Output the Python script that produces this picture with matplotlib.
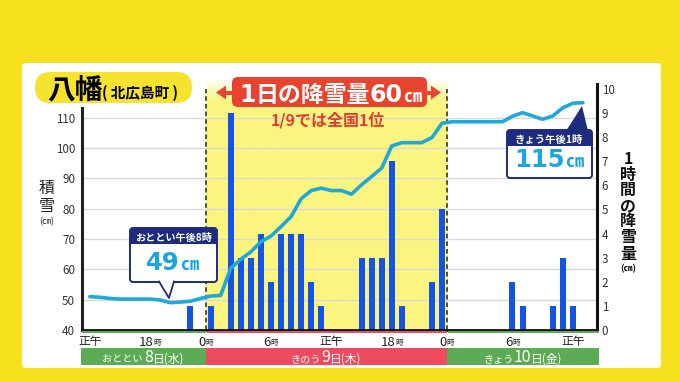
import matplotlib
matplotlib.use('Agg')
import matplotlib.pyplot as plt
from matplotlib.patches import FancyBboxPatch, Polygon, Rectangle
from matplotlib.transforms import Affine2D, blended_transform_factory
import numpy as np

plt.rcParams['font.family'] = ['Noto Sans CJK JP', 'DejaVu Sans']

# ---- data (x = hours since noon of Jan 8, hour-ending index) ----
depth_hours = list(range(1, 51))          # 13:00 (8th) ... 14:00 (10th)
depth_d8 = [51.0, 50.8, 50.4, 50.2, 50.2, 50.2, 50.2, 49.9, 49.0, 49.2, 49.5, 50.4]
depth_d9 = [51.2, 51.4, 60.4, 63.3, 65.8, 69.1, 71.0, 74.1, 77.4, 83.3, 86.0, 86.8,
            86.0, 86.0, 84.8, 87.9, 90.6, 93.4, 100.7, 101.8, 101.8, 101.8, 103.5, 108.2]
depth_d10 = [108.7, 108.7, 108.7, 108.7, 108.7, 108.7, 110.5, 111.7, 110.6, 109.5,
             110.6, 113.3, 114.8, 115.0]
depth = depth_d8 + depth_d9 + depth_d10

snow_hours = list(range(1, 50))
snow_d8 = [0, 0, 0, 0, 0, 0, 0, 0, 0, 0, 1, 0]
snow_d9 = [1, 0, 9, 3, 3, 4, 2, 4, 4, 4, 2, 1, 0, 0, 0, 3, 3, 3, 7, 1, 0, 0, 2, 5]
snow_d10 = [0, 0, 0, 0, 0, 0, 2, 1, 0, 0, 1, 3, 1]
snow = snow_d8 + snow_d9 + snow_d10

tick_hours = [0, 6, 12, 18, 24, 30, 36, 42, 48]
tick_text = ['正午', '18', '0', '6', '正午', '18', '0', '6', '正午']
day_edges = [12, 36]
left_ticks = list(range(40, 111, 10))
right_ticks = list(range(0, 11))

W, H = 680, 382
YEL = '#F7E11E'
NAVY = '#1E2B7E'
CYAN = '#19A6E0'
GREEN = '#5DAB54'
PINK = '#EE4B5E'
CJK = ['Noto Sans CJK JP', 'DejaVu Sans']
NUM = ['DejaVu Sans']

fig = plt.figure(figsize=(6.8, 3.82), dpi=100)
fig.patch.set_facecolor(YEL)
PX = Affine2D().scale(1, -1).translate(0, H)   # pixel coords, y from top


def box(x0, y0, x1, y1, fc, ec='none', lw=0, r=0, z=5):
    p = FancyBboxPatch((x0, y0), x1 - x0, y1 - y0,
                       boxstyle=f'round,pad=0,rounding_size={r}' if r else 'square,pad=0',
                       fc=fc, ec=ec, lw=lw, transform=PX, zorder=z)
    fig.add_artist(p)
    return p


def rich(x, y, parts, ha='center', weight='bold', z=10):
    r = fig.canvas.get_renderer()
    ts = []
    for s, size, color, fam in parts:
        ts.append(fig.text(0, 0, s, fontsize=size, color=color, family=fam,
                           fontweight=weight, va='baseline', ha='left',
                           transform=PX, zorder=z))
    ws = [t.get_window_extent(r).width for t in ts]
    x0 = x - sum(ws) / 2 if ha == 'center' else x
    for t, w in zip(ts, ws):
        t.set_position((x0, y))
        x0 += w


# white panel
box(22, 63, 661, 368, 'white', r=4, z=-1)

# ---- axes ----
ax = fig.add_axes([82 / W, (H - 330) / H, (597 - 82) / W, (330 - 89) / H])
ax2 = ax.twinx()
ax.set_zorder(ax2.get_zorder() + 1)
ax.patch.set_visible(False)
ax2.patch.set_visible(False)

xlim = (-0.28, 50.9)

# yellow band for the 9th, fading out just above the plot
top_v = 10.45
n = 200
vals = np.linspace(top_v, 0, n)
alpha = np.clip(1 - (vals - 9.5) / (top_v - 9.5), 0, 1)
img = np.zeros((n, 1, 4))
img[:, 0, :3] = np.array([251, 245, 128]) / 255
img[:, 0, 3] = alpha
ax2.imshow(img, extent=(day_edges[0], day_edges[1], 0, top_v), aspect='auto',
           clip_on=False, zorder=0, interpolation='bilinear')

# grid at left-axis values
tr = blended_transform_factory(ax2.transAxes, ax.transData)
ax2.hlines(left_ticks[1:], 0, 1, transform=tr, color='#DADADA', lw=1, zorder=1)

snow_x = [h - 0.5 for h in snow_hours]
ax2.bar(snow_x, snow, width=0.6, color='#1552E6', zorder=2)
for d in day_edges:
    ax2.axvline(d, color='#222222', ls=(0, (3, 2)), lw=1.1, zorder=3)

depth_x = [h - 0.5 for h in depth_hours]
ax.plot(depth_x, depth, color='#1FA8DA', lw=2.6, solid_capstyle='round',
        solid_joinstyle='round', zorder=4)

ax.set_xlim(*xlim)
ax2.set_xlim(*xlim)
ax.set_ylim(40, 119.5)
ax2.set_ylim(0, 10)
ax.set_xticks([])
ax.set_yticks(left_ticks)
ax2.set_yticks(right_ticks)
ax.tick_params(axis='y', length=0, pad=5, labelsize=8.4, labelcolor='#333333')
ax2.tick_params(axis='y', length=0, pad=3.5, labelsize=8.4, labelcolor='#333333')

for s in ['top', 'right']:
    ax.spines[s].set_visible(False)
for s in ['top', 'left', 'bottom']:
    ax2.spines[s].set_visible(False)
ax.spines['left'].set_linewidth(2.2)
ax.spines['left'].set_color('#222222')
ax.spines['left'].set_bounds(40, 113.3)
ax.spines['bottom'].set_linewidth(2)
ax.spines['bottom'].set_color('#111111')
ax2.spines['right'].set_linewidth(2.2)
ax2.spines['right'].set_color('#111111')
ax2.spines['right'].set_bounds(0, 10.2)


def xpix(t):
    return ax.transData.transform((t, 40))[0]


# x labels
for t, s in zip(tick_hours, tick_text):
    if s == '正午':
        rich(xpix(t + 0.5), 345.5, [(s, 8.5, '#222222', CJK)], weight='normal')
    else:
        xc = xpix(t) if s == '0' else xpix(t + 0.5)
        rich(xc, 345.5, [(s, 9.5, '#222222', CJK), ('時', 5.5, '#222222', CJK)],
             weight='normal')

# day strips + underline
x_l, x_r = xpix(xlim[0]) - 1, xpix(xlim[1]) + 2
e1, e2 = xpix(day_edges[0]), xpix(day_edges[1])
for a, b, c in [(x_l, e1, GREEN), (e1, e2, PINK), (e2, x_r, GREEN)]:
    box(a, 348, b, 365, c, z=3)
    box(a + 1, 331.2, b, 333.2, c, z=3)
rich((x_l + e1) / 2, 362.5, [('おととい ', 7.3, 'white', CJK), ('8', 11.5, 'white', CJK),
                             ('日(水)', 8.5, 'white', CJK)], weight='normal')
rich((e1 + e2) / 2, 362.5, [('きのう', 7.3, 'white', CJK), ('9', 11.5, 'white', CJK),
                            ('日(木)', 8.5, 'white', CJK)], weight='normal')
rich((e2 + x_r) / 2, 362.5, [('きょう', 7.3, 'white', CJK), ('10', 11.5, 'white', CJK),
                             ('日(金)', 8.5, 'white', CJK)], weight='normal')

# axis titles
for ch, y, fs in [('積', 188, 11.5), ('雪', 206.5, 11.5), ('(㎝)', 222, 6.5)]:
    fig.text(47, y, ch, fontsize=fs, ha='center', va='center', transform=PX,
             color='#222222', family=CJK)
for ch, y, fs in [('1', 159, 11.5), ('時', 174.5, 11.5), ('間', 190, 11.5),
                  ('の', 206, 11.5), ('降', 221, 11.5), ('雪', 237, 11.5),
                  ('量', 253.5, 11.5), ('(㎝)', 269, 6.5)]:
    fig.text(628, y, ch, fontsize=fs, ha='center', va='center', transform=PX,
             color='#111111', family=CJK, fontweight='bold')

# title pill
box(35, 72, 192, 103, '#F5E330', r=15.5, z=5)
rich(47, 98, [('八幡', 20, 'black', CJK), ('( 北広島町 )', 10.5, 'black', CJK)], ha='left')

# banner with arrows
box(232, 77, 427, 107, '#E8432F', r=6, z=6)
for tip, base in [(216, 226), (441, 431)]:
    fig.add_artist(Polygon([(tip, 92.5), (base, 85.5), (base, 99.5)], closed=True,
                           fc='#E8432F', ec='none', transform=PX, zorder=6))
    fig.add_artist(Rectangle((min(base, 232 if tip < 300 else 427) - 1, 90.5),
                             abs((232 if tip < 300 else 427) - base) + 2, 4,
                             fc='#E8432F', ec='none', transform=PX, zorder=6))
rich(330, 101.5, [('1', 17, 'white', NUM), ('日の降雪量', 16.5, 'white', CJK),
                  ('60', 17, 'white', NUM), ('㎝', 13, 'white', CJK)])
rich(328, 125, [('1/9では全国1位', 11.5, '#E43C2E', CJK)])

# callout: 8th 20:00
box(130, 228, 217, 282, 'white', ec=NAVY, lw=1.4, r=3, z=7)
box(130, 228, 217, 244, NAVY, r=3, z=7)
box(130, 238, 217, 244, NAVY, z=7)
fig.add_artist(Polygon([(159, 280.5), (174, 280.5), (169, 298)], closed=True,
                       fc='white', ec='none', transform=PX, zorder=8))
fig.add_artist(plt.Line2D([159, 169, 174], [281.5, 298, 281.5], color=NAVY, lw=1.3,
                          transform=PX, zorder=8))
rich(173.5, 240.5, [('おととい午後8時', 7.3, 'white', CJK)], z=11)
rich(172, 270, [('49', 17.5, CYAN, NUM), ('㎝', 13, CYAN, CJK)], z=11)

# callout: 10th 13:00
box(507, 130, 592, 178, 'white', ec=NAVY, lw=1.4, r=3, z=7)
box(507, 130, 592, 146, NAVY, r=3, z=7)
box(507, 140, 592, 146, NAVY, z=7)
fig.add_artist(Polygon([(566, 131), (588, 131), (582, 106)], closed=True,
                       fc=NAVY, ec='none', transform=PX, zorder=8))
rich(549, 142.5, [('きょう午後1時', 7.5, 'white', CJK)], z=11)
rich(549, 167, [('115', 17.5, CYAN, NUM), ('㎝', 13, CYAN, CJK)], z=11)

fig.savefig('out.png', dpi=100, facecolor=fig.get_facecolor())
